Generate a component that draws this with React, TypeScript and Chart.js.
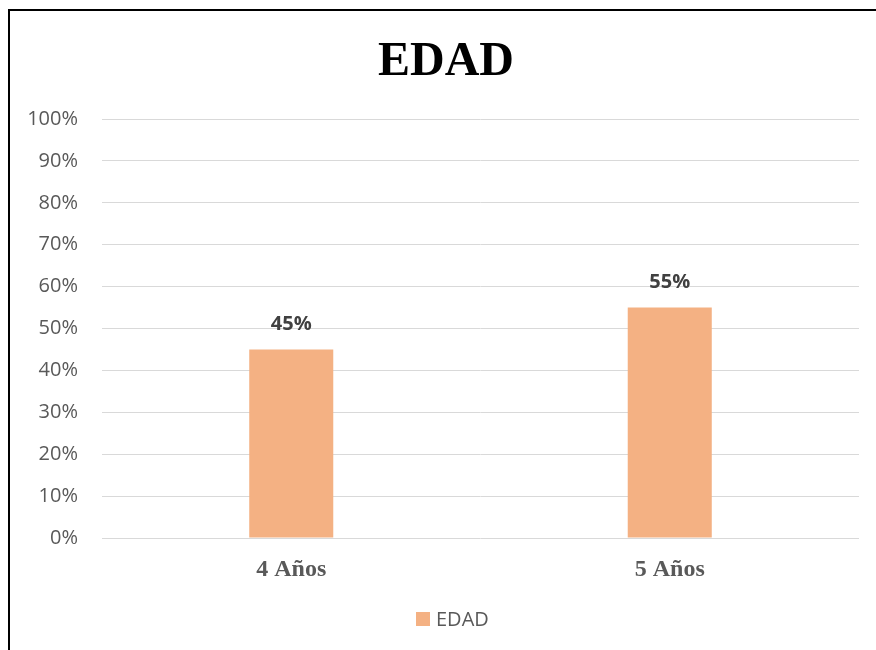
import React, { useEffect, useRef } from "react";
import { Chart, registerables } from "chart.js";

Chart.register(...registerables);

// Age groups and their share of the sample (%)
const categories = ["4 Años", "5 Años"];
const values = [45, 55];
const seriesName = "EDAD";
const chartTitle = "EDAD";

const BAR_COLOR = "#F4B183";
const GRID_COLOR = "#D9D9D9";
const TICK_COLOR = "#595959";
const LABEL_COLOR = "#404040";
const SERIF = '"Liberation Serif", "Times New Roman", serif';
const SANS = '"Open Sans", sans-serif';

// Writes each bar's value above it
const valueLabels = {
  id: "valueLabels",
  afterDatasetsDraw(chart: any) {
    const ctx = chart.ctx;
    const meta = chart.getDatasetMeta(0);
    const data = chart.data.datasets[0].data as number[];
    ctx.save();
    ctx.font = `bold 20px ${SANS}`;
    ctx.fillStyle = LABEL_COLOR;
    ctx.textAlign = "center";
    ctx.textBaseline = "middle";
    meta.data.forEach((bar: any, i: number) => {
      ctx.fillText(`${data[i]}%`, bar.x, bar.y - 25);
    });
    ctx.restore();
  },
};

// Chart heading and the single-series key underneath the axis
const headingAndKey = {
  id: "headingAndKey",
  afterDraw(chart: any) {
    const ctx = chart.ctx;
    const ds = chart.data.datasets[0];
    ctx.save();
    ctx.font = `bold 48px ${SERIF}`;
    ctx.fillStyle = "#000000";
    ctx.textAlign = "center";
    ctx.textBaseline = "alphabetic";
    ctx.fillText(chartTitle, 436, 64);

    ctx.fillStyle = ds.backgroundColor;
    ctx.fillRect(406, 601, 14, 14);
    ctx.font = `20px ${SANS}`;
    ctx.fillStyle = TICK_COLOR;
    ctx.textAlign = "left";
    ctx.fillText(ds.label, 426, 615);
    ctx.restore();
  },
};

export default function App() {
  const canvasRef = useRef<HTMLCanvasElement | null>(null);

  useEffect(() => {
    document.documentElement.style.overflow = "hidden";
    document.body.style.overflow = "hidden";
    const canvas = canvasRef.current;
    if (!canvas) return;
    const chart = new Chart(canvas, {
      type: "bar",
      data: {
        labels: categories,
        datasets: [
          {
            label: seriesName,
            data: values,
            backgroundColor: BAR_COLOR,
            borderWidth: 0,
            barPercentage: 0.222,
            categoryPercentage: 1,
          },
        ],
      },
      plugins: [valueLabels, headingAndKey],
      options: {
        responsive: false,
        animation: false,
        devicePixelRatio: 1,
        layout: { padding: { left: 0, right: 17, top: 108, bottom: 51 } },
        plugins: {
          title: { display: false },
          legend: { display: false },
          tooltip: { enabled: false },
        },
        scales: {
          x: {
            grid: { display: false, drawTicks: false },
            border: { display: false },
            ticks: {
              color: TICK_COLOR,
              padding: 17,
              font: { family: SERIF, size: 24, weight: "bold" },
            },
            afterFit: (scale: any) => {
              scale.height = 61;
            },
          },
          y: {
            min: 0,
            max: 100,
            grid: { color: GRID_COLOR, lineWidth: 1, drawTicks: false },
            border: { display: false },
            ticks: {
              stepSize: 10,
              color: TICK_COLOR,
              padding: 24,
              font: { family: SANS, size: 20 },
              callback: (v: any) => `${v}%`,
            },
            afterFit: (scale: any) => {
              scale.width = 92;
            },
          },
        },
      },
    });
    return () => chart.destroy();
  }, []);

  return (
    <div
      style={{
        position: "fixed",
        left: 8,
        top: 9,
        width: 1000,
        height: 1000,
        borderTop: "2px solid #000",
        borderLeft: "2px solid #000",
        background: "#fff",
      }}
    >
      <canvas ref={canvasRef} width={866} height={639} style={{ display: "block", width: 866, height: 639 }} />
    </div>
  );
}
